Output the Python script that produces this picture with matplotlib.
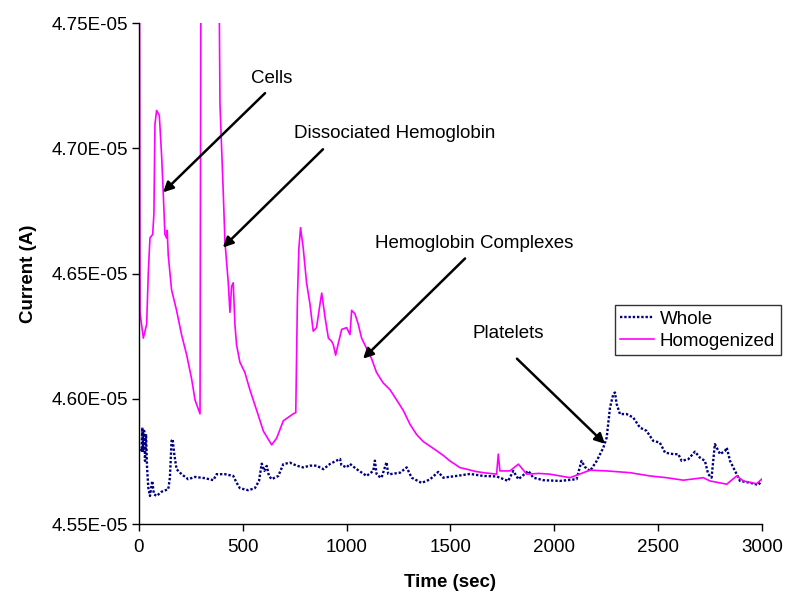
import numpy as np
import matplotlib
matplotlib.use("Agg")
import matplotlib.pyplot as plt

plt.rcParams['font.family'] = ['Liberation Sans', 'DejaVu Sans']

# values, current in units of 1E-05 A
homog_t = [2, 5, 21, 37, 45, 53, 66, 72, 77, 85, 98, 109, 117, 125, 133, 136, 141, 157, 181,
           205, 230, 254, 270, 294, 299, 383, 390, 406, 414, 430, 438, 446, 454, 462, 470,
           486, 510, 534, 567, 599, 639, 663, 695, 719, 743, 755, 763, 770, 778, 791, 807,
           823, 839, 855, 872, 880, 896, 912, 928, 936, 947, 960, 976, 1000, 1016, 1024,
           1040, 1056, 1072, 1096, 1120, 1144, 1176, 1209, 1241, 1273, 1305, 1337, 1369,
           1417, 1465, 1497, 1546, 1578, 1620, 1658, 1722, 1730, 1738, 1786, 1827, 1867,
           1925, 1979, 2075, 2172, 2252, 2364, 2460, 2540, 2621, 2717, 2749, 2830, 2878,
           2910, 2974, 2998]
homog_i = [4.80, 4.6345, 4.6242, 4.6297, 4.6504, 4.6642, 4.6656, 4.6738, 4.7096, 4.7151,
           4.7131, 4.6972, 4.6821, 4.6656, 4.6642, 4.6672, 4.6573, 4.6435, 4.6353, 4.6256,
           4.6174, 4.6077, 4.5995, 4.5940, 4.80, 4.80, 4.7179, 4.6821, 4.6628, 4.6463,
           4.6345, 4.6449, 4.6463, 4.6297, 4.6215, 4.6146, 4.6105, 4.6036, 4.5953, 4.5871,
           4.5816, 4.5843, 4.5912, 4.5926, 4.5940, 4.5945, 4.6400, 4.6600, 4.6683, 4.6601,
           4.6463, 4.6380, 4.6270, 4.6284, 4.6380, 4.6422, 4.6325, 4.6242, 4.6229, 4.6215,
           4.6174, 4.6222, 4.6277, 4.6284, 4.6256, 4.6353, 4.6339, 4.6297, 4.6242, 4.6201,
           4.6160, 4.6105, 4.6063, 4.6036, 4.5995, 4.5953, 4.5898, 4.5857, 4.5829, 4.5802,
           4.5774, 4.5752, 4.5725, 4.5719, 4.5710, 4.5705, 4.5699, 4.5779, 4.5712, 4.5712,
           4.5739, 4.5699, 4.5702, 4.5699, 4.5685, 4.5715, 4.5712, 4.5705, 4.5692, 4.5685,
           4.5675, 4.5685, 4.5672, 4.5659, 4.5692, 4.5672, 4.5661, 4.5679]

whole_t = [10, 13, 16, 20, 25, 29, 34, 39, 45, 53, 64, 72, 85, 109, 141, 149, 157, 162, 170,
           181, 205, 237, 270, 318, 358, 374, 414, 454, 470, 486, 526, 558, 578, 591, 604,
           615, 626, 639, 671, 695, 727, 759, 791, 823, 855, 888, 920, 968, 975, 1000, 1016,
           1048, 1096, 1128, 1136, 1144, 1152, 1168, 1192, 1200, 1209, 1257, 1289, 1313,
           1361, 1401, 1441, 1465, 1529, 1594, 1658, 1722, 1778, 1802, 1827, 1875, 1899,
           1947, 2027, 2107, 2131, 2147, 2172, 2204, 2236, 2252, 2268, 2284, 2292, 2300,
           2316, 2348, 2380, 2412, 2444, 2476, 2508, 2533, 2573, 2597, 2613, 2645, 2677,
           2701, 2725, 2741, 2757, 2773, 2798, 2822, 2830, 2846, 2870, 2894, 2942, 2982, 2998]
whole_i = [4.5800, 4.5792, 4.5885, 4.5792, 4.5872, 4.5752, 4.5859, 4.5725, 4.5645, 4.5612,
           4.5672, 4.5619, 4.5612, 4.5629, 4.5639, 4.5685, 4.5832, 4.5839, 4.5779, 4.5719,
           4.5699, 4.5679, 4.5688, 4.5683, 4.5675, 4.5699, 4.5699, 4.5692, 4.5665, 4.5643,
           4.5635, 4.5643, 4.5672, 4.5741, 4.5712, 4.5732, 4.5692, 4.5679, 4.5692, 4.5739,
           4.5745, 4.5733, 4.5726, 4.5733, 4.5733, 4.5719, 4.5740, 4.5760, 4.5735, 4.5726,
           4.5740, 4.5719, 4.5692, 4.5712, 4.5753, 4.5700, 4.5692, 4.5685, 4.5747, 4.5700,
           4.5699, 4.5705, 4.5726, 4.5685, 4.5664, 4.5678, 4.5708, 4.5685, 4.5692, 4.5700,
           4.5692, 4.5690, 4.5672, 4.5712, 4.5679, 4.5712, 4.5685, 4.5675, 4.5672, 4.5679,
           4.5752, 4.5728, 4.5712, 4.5752, 4.5805, 4.5845, 4.5965, 4.6019, 4.6025, 4.5979,
           4.5939, 4.5939, 4.5925, 4.5885, 4.5872, 4.5832, 4.5825, 4.5785, 4.5779, 4.5779,
           4.5752, 4.5759, 4.5789, 4.5765, 4.5752, 4.5699, 4.5685, 4.5819, 4.5779, 4.5792,
           4.5805, 4.5752, 4.5712, 4.5672, 4.5665, 4.5656, 4.5672]

x_ticks = [0, 500, 1000, 1500, 2000, 2500, 3000]
y_ticks = [4.55e-5, 4.60e-5, 4.65e-5, 4.70e-5, 4.75e-5]

fs = 13.5

fig = plt.figure(figsize=(7.86, 5.98), dpi=100)
ax = fig.add_axes([0.1768, 0.1237, 0.7927, 0.8378])

ax.plot(whole_t, np.array(whole_i) * 1e-5, color='#000080', lw=1.7,
        linestyle=(0, (1, 0.8)), label='Whole')
ax.plot(homog_t, np.array(homog_i) * 1e-5, color='#FF00FF', lw=1.2, label='Homogenized')

ax.set_xlim(0, 3000)
ax.set_ylim(4.55e-5, 4.75e-5)
ax.set_xticks(x_ticks)
ax.set_yticks(y_ticks)
ax.set_yticklabels(['{:.2E}'.format(v) for v in y_ticks])
ax.tick_params(direction='out', length=5, width=1, labelsize=fs, pad=3)
ax.tick_params(axis='x', pad=6)
for s in ['top', 'right']:
    ax.spines[s].set_visible(False)
for s in ['left', 'bottom']:
    ax.spines[s].set_linewidth(1)

ax.set_xlabel('Time (sec)', fontsize=fs, fontweight='bold', labelpad=13)
ax.set_ylabel('Current (A)', fontsize=fs, fontweight='bold', labelpad=10)

# labels with arrows
arrow = dict(arrowstyle='-|>', color='black', lw=1.8, mutation_scale=15,
             shrinkA=0, shrinkB=0)
notes = [
    ('Cells', (640, 4.728e-5), (607, 4.722e-5), (116, 4.6824e-5)),
    ('Dissociated Hemoglobin', (1233, 4.706e-5), (886, 4.6996e-5), (404, 4.6604e-5)),
    ('Hemoglobin Complexes', (1613, 4.662e-5), (1570, 4.656e-5), (1079, 4.616e-5)),
    ('Platelets', (1777, 4.626e-5), (1820, 4.616e-5), (2244, 4.582e-5)),
]
for txt, pos, tail, head in notes:
    ax.text(pos[0], pos[1], txt, fontsize=fs, ha='center', va='center')
    ax.annotate('', xy=head, xytext=tail, arrowprops=arrow)

leg = ax.legend(loc='upper right', bbox_to_anchor=(1.03, 0.437), fontsize=fs,
                frameon=True, fancybox=False, edgecolor='black', handlelength=1.8,
                borderpad=0.3, labelspacing=0.25, handletextpad=0.3, borderaxespad=0)
leg.get_frame().set_linewidth(1)

fig.savefig('out.png', dpi=100)
